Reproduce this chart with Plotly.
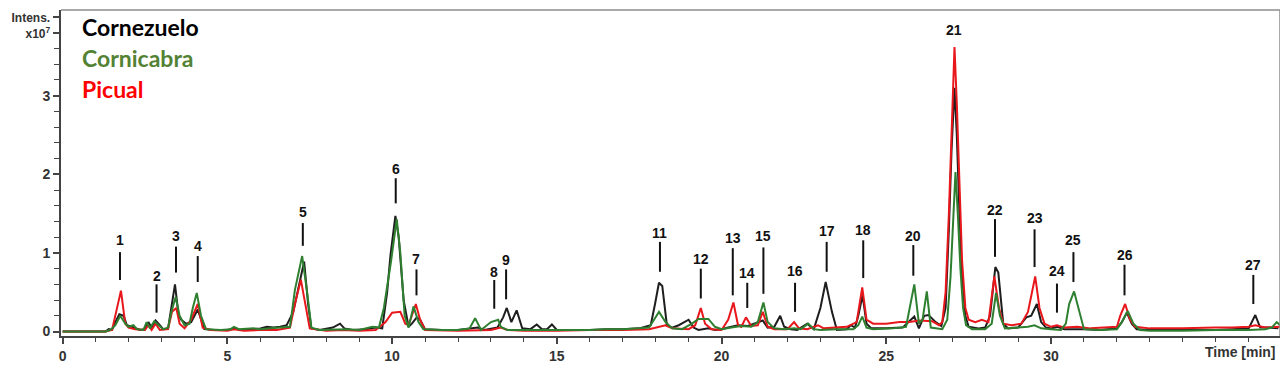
import plotly.graph_objects as go

# ---------------- data (intensity in units of 1e7) ----------------
cornezuelo_t = [0, 1.3, 1.4, 1.5, 1.6, 1.72, 1.85, 1.95, 2.1, 2.2, 2.35, 2.5, 2.6, 2.7, 2.82, 2.95, 3.05, 3.2, 3.3, 3.41,
                3.52, 3.6, 3.75, 3.9, 4.1, 4.2, 4.3, 4.6, 5.0, 5.2, 5.4, 5.8, 6.0, 6.2, 6.4, 6.6, 6.8, 7.0, 7.1, 7.22,
                7.33, 7.45, 7.55, 7.8, 8.2, 8.42, 8.55, 8.8, 9.2, 9.5, 9.7, 9.85, 9.95, 10.1, 10.2, 10.35, 10.5, 10.6,
                10.75, 10.85, 11.0, 11.5, 12.0, 12.6, 12.8, 13.2, 13.37, 13.48, 13.62, 13.78, 13.95, 14.2, 14.39, 14.55,
                14.7, 14.85, 15.0, 15.5, 16.0, 16.5, 17.0, 17.5, 17.85, 17.98, 18.1, 18.2, 18.34, 18.5, 18.7, 19.0,
                19.15, 19.3, 19.6, 19.8, 20.0, 20.2, 20.5, 20.8, 21.0, 21.25, 21.4, 21.6, 21.78, 21.9, 22.1, 22.3,
                22.6, 22.8, 23.0, 23.16, 23.35, 23.5, 23.8, 23.92, 24.05, 24.15, 24.28, 24.4, 24.55, 25.0, 25.5,
                25.85, 25.99, 26.15, 26.28, 26.5, 26.67, 26.8, 26.9, 26.98, 27.07, 27.14, 27.22, 27.3, 27.4, 27.5,
                27.8, 28.0, 28.15, 28.31, 28.4, 28.55, 28.7, 29.0, 29.25, 29.4, 29.57, 29.7, 29.85, 30.0, 30.2, 30.4,
                31.0, 31.5, 32.0, 32.15, 32.3, 32.45, 32.6, 33.0, 34.0, 35.0, 35.5, 36.0, 36.2, 36.35, 36.6, 36.9]
cornezuelo_y = [0, 0.0, 0.03, 0.02, 0.12, 0.22, 0.2, 0.08, 0.06, 0.04, 0.02, 0.03, 0.12, 0.05, 0.14, 0.08, 0.03, 0.04, 0.3, 0.6,
                0.2, 0.15, 0.1, 0.12, 0.28, 0.15, 0.03, 0.02, 0.02, 0.04, 0.02, 0.03, 0.04, 0.06, 0.05, 0.06, 0.08, 0.25, 0.45, 0.7,
                0.89, 0.35, 0.04, 0.02, 0.05, 0.1, 0.04, 0.02, 0.03, 0.05, 0.04, 0.5, 0.97, 1.47, 1.2, 0.4, 0.06, 0.1,
                0.18, 0.15, 0.03, 0.02, 0.02, 0.05, 0.02, 0.05, 0.18, 0.3, 0.12, 0.27, 0.04, 0.03, 0.09, 0.03,
                0.03, 0.09, 0.02, 0.02, 0.02, 0.03, 0.03, 0.04, 0.08, 0.35, 0.62, 0.58, 0.08, 0.05, 0.08, 0.15,
                0.05, 0.02, 0.04, 0.02, 0.03, 0.05, 0.08, 0.07, 0.1, 0.14, 0.05, 0.06, 0.2, 0.06, 0.03, 0.02,
                0.1, 0.03, 0.3, 0.63, 0.25, 0.02, 0.03, 0.08, 0.05, 0.2, 0.46, 0.1, 0.04, 0.04, 0.05,
                0.19, 0.04, 0.2, 0.21, 0.12, 0.07, 0.3, 1.3, 2.3, 3.1, 2.5, 1.5, 0.7, 0.2, 0.06,
                0.04, 0.05, 0.2, 0.82, 0.75, 0.1, 0.04, 0.05, 0.18, 0.2, 0.35, 0.12, 0.05, 0.04, 0.06, 0.03,
                0.03, 0.02, 0.04, 0.12, 0.24, 0.1, 0.03, 0.02, 0.02, 0.02, 0.03, 0.04, 0.21, 0.05, 0.05, 0.04]

cornicabra_t = [0, 1.3, 1.45, 1.6, 1.75, 1.9, 2.0, 2.15, 2.25, 2.45, 2.55, 2.65, 2.78, 2.9, 3.05, 3.2, 3.3, 3.43, 3.55, 3.7,
                3.85, 3.95, 4.07, 4.2, 4.35, 4.8, 5.1, 5.2, 5.35, 5.8, 6.0, 6.3, 6.7, 6.9, 7.05, 7.27, 7.42, 7.55, 7.8,
                8.3, 8.6, 9.0, 9.4, 9.6, 9.75, 9.97, 10.14, 10.25, 10.38, 10.5, 10.65, 10.8, 10.95, 11.5, 12.0, 12.35,
                12.52, 12.7, 13.0, 13.22, 13.3, 13.5, 14.0, 15.0, 16.0, 16.5, 17.0, 17.5, 17.8, 17.95, 18.1, 18.3,
                18.5, 18.8, 19.1, 19.3, 19.6, 19.8, 20.0, 20.3, 20.6, 20.9, 21.1, 21.27, 21.4, 21.6, 21.9, 22.2,
                22.4, 22.63, 22.8, 23.0, 23.5, 24.0, 24.15, 24.27, 24.4, 24.6, 25.2, 25.6, 25.85, 25.99, 26.1, 26.23,
                26.35, 26.7, 26.85, 26.95, 27.03, 27.1, 27.17, 27.25, 27.33, 27.42, 27.6, 28.0, 28.2, 28.33, 28.45, 28.6,
                29.0, 29.3, 29.5, 29.7, 30.0, 30.3, 30.45, 30.55, 30.7, 30.85, 31.0, 31.5, 32.0, 32.15, 32.33, 32.5,
                32.7, 33.0, 34.0, 35.0, 36.0, 36.5, 36.7, 36.85, 36.95]
cornicabra_y = [0, 0, 0.02, 0.08, 0.2, 0.1, 0.06, 0.08, 0.03, 0.02, 0.12, 0.04, 0.13, 0.08, 0.03, 0.05, 0.25, 0.44, 0.2, 0.08,
                0.1, 0.3, 0.49, 0.2, 0.03, 0.02, 0.03, 0.06, 0.03, 0.04, 0.03, 0.04, 0.05, 0.06, 0.53, 0.96, 0.5, 0.05, 0.02,
                0.03, 0.03, 0.02, 0.06, 0.05, 0.3, 0.9, 1.43, 1.0, 0.2, 0.05, 0.32, 0.12, 0.03, 0.02, 0.02, 0.04,
                0.17, 0.02, 0.12, 0.15, 0.06, 0.02, 0.02, 0.02, 0.02, 0.03, 0.03, 0.04, 0.05, 0.15, 0.25, 0.12,
                0.04, 0.03, 0.1, 0.16, 0.16, 0.06, 0.03, 0.05, 0.07, 0.06, 0.12, 0.37, 0.12, 0.04, 0.03, 0.04,
                0.03, 0.1, 0.03, 0.02, 0.03, 0.03, 0.08, 0.19, 0.05, 0.03, 0.04, 0.06, 0.6, 0.1, 0.15, 0.51,
                0.05, 0.03, 0.15, 0.7, 1.5, 2.03, 1.5, 0.8, 0.3, 0.08, 0.03, 0.03, 0.1, 0.49, 0.2, 0.04,
                0.05, 0.06, 0.08, 0.04, 0.03, 0.02, 0.1, 0.35, 0.51, 0.25, 0.03, 0.02, 0.03, 0.12, 0.26, 0.1,
                0.02, 0.01, 0.01, 0.02, 0.02, 0.03, 0.05, 0.12, 0.08]

picual_t = [0, 1.3, 1.5, 1.65, 1.77, 1.9, 2.0, 2.2, 2.5, 2.6, 2.7, 2.82, 2.95, 3.2, 3.32, 3.45, 3.55, 3.7, 3.9, 4.1,
            4.25, 4.5, 5.0, 5.2, 5.5, 6.0, 6.5, 6.9, 7.05, 7.23, 7.38, 7.5, 8.0, 8.5, 9.0, 9.5, 9.8, 10.0, 10.25,
            10.4, 10.5, 10.72, 10.85, 11.0, 12.0, 13.0, 13.3, 13.5, 14.0, 15.0, 16.0, 17.0, 17.8, 18.0, 18.3,
            18.5, 19.0, 19.2, 19.37, 19.5, 19.7, 20.0, 20.2, 20.36, 20.5, 20.6, 20.74, 20.9, 21.1, 21.25, 21.4,
            21.6, 22.0, 22.2, 22.35, 22.6, 22.93, 23.1, 23.5, 23.8, 24.1, 24.27, 24.4, 24.6, 25.0, 25.4, 25.7,
            26.0, 26.4, 26.6, 26.7, 26.8, 26.9, 26.98, 27.07, 27.14, 27.22, 27.3, 27.4, 27.5, 27.7, 27.9, 28.1, 28.28,
            28.42, 28.55, 28.8, 29.1, 29.3, 29.4, 29.52, 29.65, 29.8, 30.0, 30.18, 30.4, 30.8, 31.2, 31.6, 32.0,
            32.1, 32.25, 32.4, 32.55, 33.0, 34.0, 35.0, 35.5, 36.0, 36.2, 36.5, 36.95]
picual_y = [0, 0, 0.02, 0.3, 0.52, 0.1, 0.05, 0.03, 0.02, 0.08, 0.02, 0.1, 0.02, 0.03, 0.25, 0.3, 0.1, 0.04, 0.15, 0.35,
            0.05, 0.02, 0.01, 0.03, 0.01, 0.02, 0.02, 0.05, 0.35, 0.66, 0.3, 0.04, 0.01, 0.02, 0.01, 0.02, 0.12, 0.24, 0.25,
            0.1, 0.08, 0.35, 0.15, 0.02, 0.01, 0.02, 0.05, 0.02, 0.01, 0.01, 0.02, 0.02, 0.03, 0.05, 0.08,
            0.04, 0.03, 0.08, 0.3, 0.1, 0.03, 0.02, 0.15, 0.37, 0.08, 0.06, 0.18, 0.07, 0.08, 0.25, 0.06,
            0.03, 0.03, 0.12, 0.04, 0.03, 0.08, 0.04, 0.05, 0.06, 0.12, 0.56, 0.15, 0.1, 0.1, 0.12, 0.12,
            0.14, 0.13, 0.08, 0.12, 0.5, 1.5, 2.6, 3.62, 2.9, 1.8, 0.9, 0.3, 0.15, 0.12, 0.15, 0.12, 0.7,
            0.3, 0.1, 0.08, 0.1, 0.25, 0.45, 0.7, 0.3, 0.1, 0.06, 0.08, 0.05, 0.06, 0.04, 0.05, 0.06,
            0.2, 0.35, 0.15, 0.06, 0.04, 0.04, 0.05, 0.05, 0.06, 0.08, 0.05, 0.06]

# peak labels: id, retention time, label height, marker line bottom/top (all in data units)
peak_ids = ["1", "2", "3", "4", "5", "6", "7", "8", "9", "11", "12", "13", "14", "15", "16", "17", "18",
            "20", "21", "22", "23", "24", "25", "26", "27"]
peak_t = [1.74, 2.85, 3.44, 4.1, 7.29, 10.11, 10.74, 13.1, 13.46, 18.13, 19.37, 20.34, 20.78, 21.27, 22.23,
          23.19, 24.3, 25.82, 27.06, 28.3, 29.5, 30.18, 30.68, 32.23, 36.14]
peak_label_y = [1.16, 0.71, 1.21, 1.09, 1.52, 2.07, 0.92, 0.76, 0.91, 1.25, 0.92, 1.19, 0.74, 1.21, 0.77,
                1.28, 1.29, 1.21, 3.84, 1.55, 1.45, 0.77, 1.17, 0.97, 0.85]
peak_line_lo = [0.655, 0.24, 0.75, 0.63, 1.09, 1.63, 0.46, 0.29, 0.41, 0.76, 0.42, 0.46, 0.30, 0.48, 0.25,
                0.76, 0.68, 0.71, None, 0.95, 0.82, 0.24, 0.63, 0.46, 0.35]
peak_line_hi = [1.01, 0.60, 1.08, 0.96, 1.38, 1.95, 0.79, 0.655, 0.79, 1.14, 0.80, 1.06, 0.62, 1.07, 0.62,
                1.14, 1.16, 1.10, None, 1.43, 1.30, 0.61, 1.01, 0.85, 0.72]

x_tick_vals = [0, 5, 10, 15, 20, 25, 30]
y_tick_vals = [0, 1, 2, 3, 3.8, 4.0]
y_tick_text = ["0", "1", "2", "3",
               "<span style='font-size:12px'>x10<sup>7</sup></span>",
               "<span style='font-size:12px'>Intens.</span>"]

series = [
    ("Cornezuelo", cornezuelo_t, cornezuelo_y, "#1e1e1e"),
    ("Picual", picual_t, picual_y, "#e8171c"),
    ("Cornicabra", cornicabra_t, cornicabra_y, "#2e8030"),
]

fig = go.Figure()
for name, t, y, col in series:
    fig.add_trace(go.Scatter(x=t, y=y, mode="lines", name=name,
                             line=dict(color=col, width=2), showlegend=False))

annotations = []
shapes = []
for pid, t, ly, lo, hi in zip(peak_ids, peak_t, peak_label_y, peak_line_lo, peak_line_hi):
    annotations.append(dict(x=t, y=ly, xref="x", yref="y", text=pid, showarrow=False,
                            font=dict(family="Liberation Sans, Arial", size=14, color="#111111", weight="bold"),
                            xanchor="center", yanchor="middle"))
    if lo is not None:
        shapes.append(dict(type="line", xref="x", yref="y", x0=t, x1=t, y0=lo, y1=hi,
                           line=dict(color="#111111", width=2)))

# legend text
legend_order = [("Cornezuelo", "#000000", 0.947), ("Cornicabra", "#548235", 0.853), ("Picual", "#ff0000", 0.758)]
for txt, col, yp in legend_order:
    annotations.append(dict(x=0.0155, y=yp, xref="paper", yref="paper", text=txt, showarrow=False,
                            xanchor="left", yanchor="middle",
                            font=dict(family="Lato", size=23, color=col, weight="bold")))

annotations.append(dict(x=35.74, y=-0.049, xref="x", yref="paper", text="Time [min]", showarrow=False,
                        xanchor="center", yanchor="middle",
                        font=dict(family="Liberation Sans, Arial", size=14, color="#333333", weight="bold")))

# top and right frame lines (lighter)
shapes.append(dict(type="line", xref="paper", yref="paper", x0=0, x1=1, y0=1, y1=1,
                   line=dict(color="#8c8c8c", width=1.5)))
shapes.append(dict(type="line", xref="paper", yref="paper", x0=1, x1=1, y0=0, y1=1,
                   line=dict(color="#8c8c8c", width=1.5)))

# the page places the figure 8 px from the top-left corner, so size/margins compensate
fig.update_layout(
    width=1272, height=358,
    margin=dict(l=53, r=0, t=2, b=30, autoexpand=False),
    paper_bgcolor="white", plot_bgcolor="white",
    annotations=annotations, shapes=shapes,
    xaxis=dict(range=[-0.05, 36.95], showgrid=False, zeroline=False, automargin=False,
               showline=True, linecolor="#444444", linewidth=2,
               tickmode="array", tickvals=x_tick_vals, ticks="outside", ticklen=6, tickwidth=1.5,
               tickcolor="#444444",
               tickfont=dict(family="Liberation Sans, Arial", size=14, color="#333333", weight="bold"),
               minor=dict(dtick=1, ticks="outside", ticklen=4, tickcolor="#444444", tickwidth=1.2)),
    yaxis=dict(range=[-0.057, 4.09], showgrid=False, zeroline=False, automargin=False,
               showline=True, linecolor="#444444", linewidth=2,
               tickmode="array", tickvals=y_tick_vals, ticktext=y_tick_text,
               ticks="outside", ticklen=6, tickwidth=1.5, tickcolor="#444444",
               tickfont=dict(family="Liberation Sans, Arial", size=14, color="#333333", weight="bold"),
               minor=dict(tickvals=[0.2, 0.4, 0.6, 0.8, 1.2, 1.4, 1.6, 1.8, 2.2, 2.4, 2.6, 2.8, 3.2, 3.4, 3.6],
                          ticks="outside", ticklen=5, tickcolor="#444444", tickwidth=1.2)),
)

fig.write_html("out.html")
